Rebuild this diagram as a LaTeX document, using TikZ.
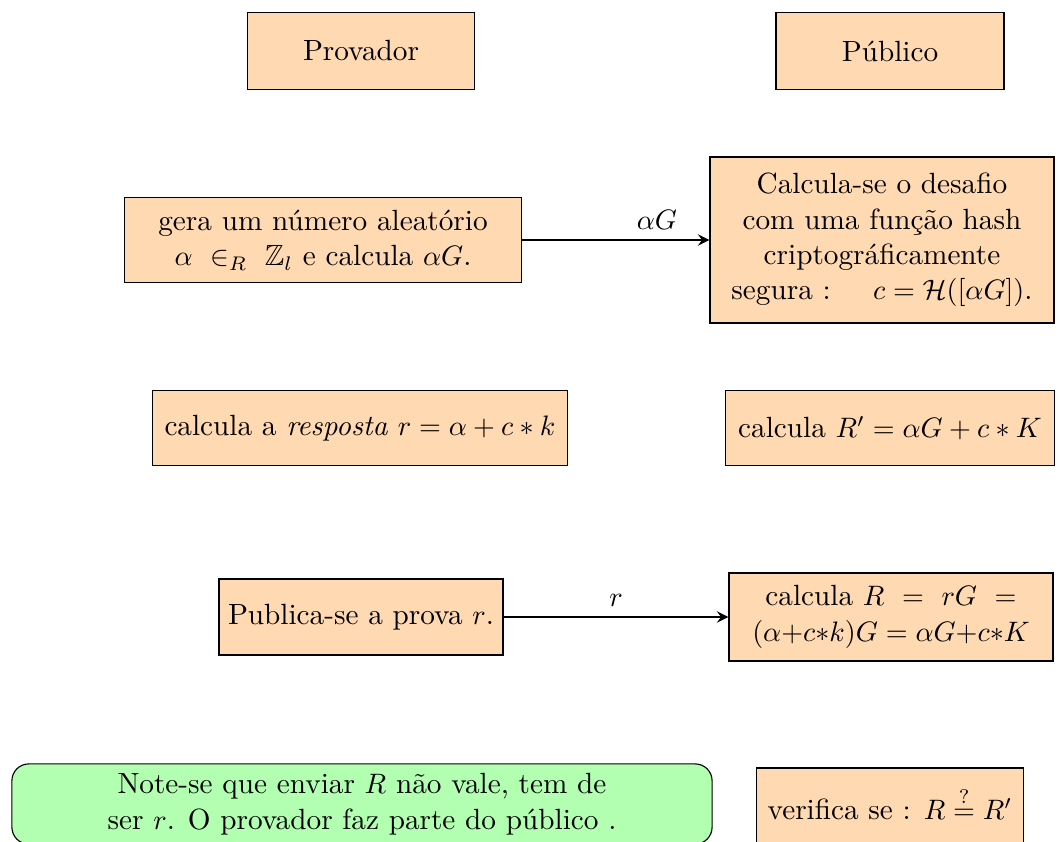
\documentclass[tikz,border=0pt]{standalone}
\usepackage{fontspec}
\usepackage{amsmath,amssymb}

\begin{document}
\begin{tikzpicture}[x=0.0125cm, y=-0.0125cm,
   every node/.style={font=\fontsize{10.4pt}{12.6pt}\selectfont},
   caixa/.style={draw, fill=orange!30, align=center, inner sep=2pt},
   nota/.style={draw, fill=green!30, rounded corners=6pt, align=center},
   seta/.style={->, >=stealth, thick}]
   \useasboundingbox (0,0) rectangle (1060,842);

   \node[caixa, minimum width=2.83cm, minimum height=0.96cm] (prov) at (361,51) {Provador};
   \node[caixa, minimum width=2.85cm, minimum height=0.96cm] (pub) at (890,51) {P\'ublico};

   \node[caixa, minimum width=4.96cm, minimum height=1.06cm] (gera) at (323,240)
   {gera um n\'umero aleat\'orio\\ $\alpha\ \in_R\ \mathbb{Z}_l$ e calcula $\alpha G$.};
   \node[caixa, minimum width=4.3cm, minimum height=2.075cm] (desafio) at (882,240)
   {Calcula-se o desafio\\ com uma fun\c{c}\~ao hash\\ criptogr\'aficamente\\
    segura : \quad $c = \mathcal{H}([\alpha G])$.};
   \draw[seta] (gera) -- (desafio) node[pos=0.72, above]{$\alpha G$};

   \node[caixa, minimum width=5.19cm, minimum height=0.94cm] (resp) at (360,428)
   {calcula a \textit{resposta} $r = \alpha + c * k$};
   \node[caixa, minimum width=4.11cm, minimum height=0.94cm] (rlinha) at (890,428)
   {calcula $R' = \alpha G + c * K$};

   \node[caixa, minimum width=3.55cm, minimum height=0.95cm] (publica) at (361,617)
   {Publica-se a prova $r$.};
   \node[caixa, minimum width=4.05cm, minimum height=1.1cm] (calcR) at (891,617)
   {calcula $R\ =\ rG\ =$\\ $(\alpha{+}c{*}k)G = \alpha G{+}c{*}K$};
   \draw[seta] (publica) -- (calcR) node[midway, above]{$r$};

   \node[nota, minimum width=8.75cm, minimum height=0.96cm] (obs) at (362,804)
   {Note-se que enviar $R$ n\~ao vale, tem de\\ ser $r$. O provador faz parte do p\'ublico .};
   \node[caixa, minimum width=3.33cm, minimum height=1.1cm, text depth=6pt] (verif) at (890,812)
   {verifica se : $R \stackrel{?}{=} R'$};
\end{tikzpicture}
\end{document}
